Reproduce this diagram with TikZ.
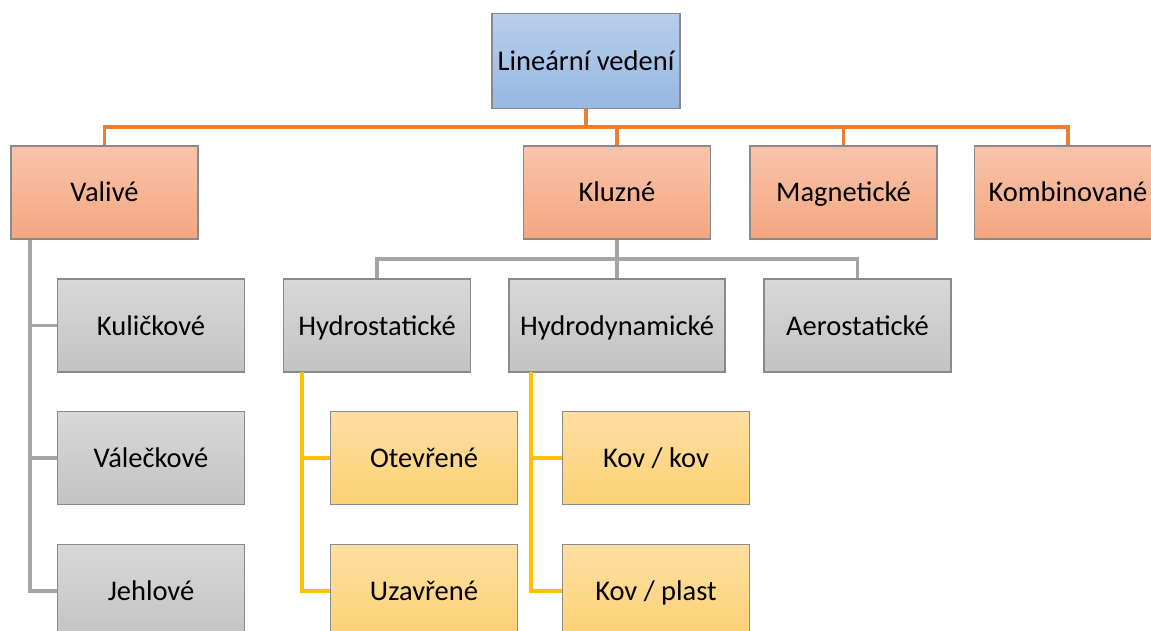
\documentclass[tikz,border=0pt]{standalone}
\usepackage{fontspec}
\setmainfont{Carlito}
\definecolor{blueTop}{HTML}{B8CEEA}
\definecolor{blueBot}{HTML}{97B8E2}
\definecolor{orangeTop}{HTML}{F8C4AA}
\definecolor{orangeBot}{HTML}{F4A680}
\definecolor{grayTop}{HTML}{D8D8D8}
\definecolor{grayBot}{HTML}{C3C3C3}
\definecolor{yellowTop}{HTML}{FEDFA2}
\definecolor{yellowBot}{HTML}{FCD175}
\definecolor{boxEdge}{HTML}{8A8A8A}
\definecolor{lineOrange}{HTML}{ED7D31}
\definecolor{lineGray}{HTML}{A5A5A5}
\definecolor{lineYellow}{HTML}{FFC000}
\begin{document}
\begin{tikzpicture}[x=1pt,y=-1pt]
				\tikzstyle{every node}=[draw=boxEdge,line width=1.2pt,rectangle,inner sep=0pt,
				minimum width=187pt,minimum height=93pt,text height=20pt,text depth=1pt,
				font=\fontsize{28.5}{34}\selectfont]
				\tikzstyle{lvl0}=[top color=blueTop,bottom color=blueBot,minimum width=188pt,minimum height=95pt]
				\tikzstyle{lvl1}=[top color=orangeTop,bottom color=orangeBot]
				\tikzstyle{lvl2}=[top color=grayTop,bottom color=grayBot]
				\tikzstyle{lvl3}=[top color=yellowTop,bottom color=yellowBot]
				\tikzstyle{conn}=[line width=3.2pt]
				\useasboundingbox (0,0) rectangle (1151,631);
				\clip (0,0) rectangle (1151,631);
				% nodes
				\node[lvl0] (root) at (586,61) {Lineární vedení};
				\node[lvl1] (valive) at (104.5,192.5) {Valivé};
				\node[lvl1] (kluzne) at (617,192.5) {Kluzné};
				\node[lvl1] (magnet) at (843.5,192.5) {Magnetické};
				\node[lvl1] (kombi) at (1068,192.5) {Kombinované};
				\node[lvl2] (kulic) at (151,325.5) {Kuličkové};
				\node[lvl2] (valec) at (151,458) {Válečkové};
				\node[lvl2] (jehl) at (151,591) {Jehlové};
				\node[lvl2] (hstat) at (377,325.5) {Hydrostatické};
				\node[lvl2,minimum width=216pt] (hdyn) at (617,325.5) {Hydrodynamické};
				\node[lvl2] (aero) at (857.5,325.5) {Aerostatické};
				\node[lvl3] (otev) at (424,458) {Otevřené};
				\node[lvl3] (uzav) at (424,591) {Uzavřené};
				\node[lvl3] (kovkov) at (656,458) {Kov / kov};
				\node[lvl3] (kovpl) at (656,591) {Kov / plast};
				% connectors
				\coordinate (busA) at (586,127);
				\coordinate (busB) at (617,259);
				\coordinate (valTop) at (30,239.5);
				\coordinate (hstTop) at (302,372);
				\coordinate (hdyTop) at (531,372);
				\draw[conn,lineOrange] (root) -- (busA) -| (valive);
				\draw[conn,lineOrange] (busA) -| (kluzne);
				\draw[conn,lineOrange] (busA) -| (magnet);
				\draw[conn,lineOrange] (busA) -| (kombi);
				\draw[conn,lineGray] (kluzne) -- (busB) -| (hstat);
				\draw[conn,lineGray] (busB) -- (hdyn);
				\draw[conn,lineGray] (busB) -| (aero);
				\draw[conn,lineGray] (valTop) |- (kulic);
				\draw[conn,lineGray] (valTop) |- (valec);
				\draw[conn,lineGray] (valTop) |- (jehl);
				\draw[conn,lineYellow] (hstTop) |- (otev);
				\draw[conn,lineYellow] (hstTop) |- (uzav);
				\draw[conn,lineYellow] (hdyTop) |- (kovkov);
				\draw[conn,lineYellow] (hdyTop) |- (kovpl);
\end{tikzpicture}
\end{document}
